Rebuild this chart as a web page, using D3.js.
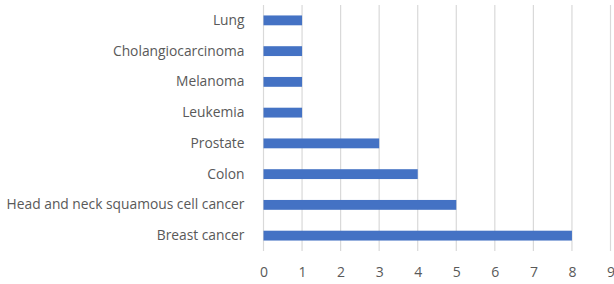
<!DOCTYPE html>
<html><head><meta charset="utf-8">
<script src="https://cdn.jsdelivr.net/npm/d3@7"></script>
<style>body{margin:0;background:#fff;} text{font-family:"Open Sans",sans-serif;fill:#595959;}</style>
</head><body>
<svg id="c" width="614" height="284"></svg>
<script>
const categories = ["Lung","Cholangiocarcinoma","Melanoma","Leukemia","Prostate","Colon","Head and neck squamous cell cancer","Breast cancer"];
const values = [1,1,1,1,3,4,5,8];
const xTicks = [0,1,2,3,4,5,6,7,8,9];

const svg = d3.select("#c");
const m = {left:263.5, right:3.5, top:5, bottom:33};
const W = 614, H = 284;
const x = d3.scaleLinear().domain([0,9]).range([m.left, W - m.right]);
const y = d3.scaleBand().domain(categories).range([m.top, H - m.bottom]).paddingInner(0.68).paddingOuter(0.34);

svg.append("g").selectAll("line").data(xTicks).join("line")
  .attr("x1", d=>x(d)).attr("x2", d=>x(d))
  .attr("y1", m.top).attr("y2", H - m.bottom)
  .attr("stroke", "#d9d9d9").attr("stroke-width", 1.2);

svg.append("g").selectAll("rect").data(values).join("rect")
  .attr("x", x(0)).attr("y", (d,i)=>y(categories[i]))
  .attr("width", d=>x(d)-x(0)).attr("height", y.bandwidth())
  .attr("fill", "#4472c4");

const xAxis = d3.axisBottom(x).tickValues(xTicks).tickSize(0).tickPadding(0);
const gx = svg.append("g").attr("transform", `translate(0,${H - m.bottom + 22})`).call(xAxis);
gx.select(".domain").remove();
gx.selectAll("text").attr("font-size", 14).attr("dy", "0.32em").style("font-family", '"Open Sans",sans-serif').attr("fill","#595959");

const yAxis = d3.axisLeft(y).tickSize(0).tickPadding(19);
const gy = svg.append("g").attr("transform", `translate(${x(0)},0)`).call(yAxis);
gy.select(".domain").remove();
gy.selectAll("text").attr("font-size", 13.8).style("font-family", '"Open Sans",sans-serif').attr("fill","#595959");
</script>
</body></html>
